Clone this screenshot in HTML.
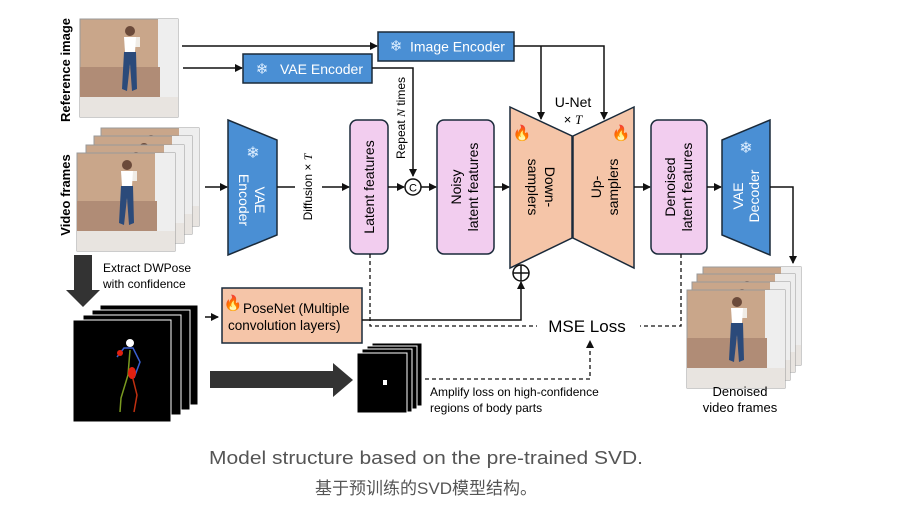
<!DOCTYPE html>
<html><head><meta charset="utf-8"><style>
html,body{margin:0;padding:0;background:#fff;}
svg{display:block;font-family:"Liberation Sans","Noto Sans CJK SC",sans-serif;}
</style></head><body>
<svg width="901" height="510" viewBox="0 0 901 510" xmlns="http://www.w3.org/2000/svg">
<defs>
<marker id="ah" markerWidth="8" markerHeight="8" refX="7" refY="4" orient="auto" markerUnits="userSpaceOnUse"><path d="M0,0 L8,4 L0,8 Z" fill="#111"/></marker>
<g id="photo">
<rect x="0" y="0" width="98" height="98" fill="#c9a68a" stroke="#999" stroke-width="1"/>
<rect x="78" y="0" width="20" height="80" fill="#eee"/>
<rect x="0" y="48" width="80" height="30" fill="#b08c76"/>
<rect x="0" y="78" width="98" height="20" fill="#e8e4e0"/>
<rect x="50" y="18" width="10" height="10" fill="#f0ece6"/>
<path d="M44,18 L56,18 L55,33 L45,33 Z" fill="#fff"/>
<path d="M44,33 L56,33 L57,70 L52,72 L50,45 L47,72 L42,70 Z" fill="#2b4a7a"/>
<circle cx="50" cy="12" r="5" fill="#6b4a3a"/>
</g>
</defs>

<!-- Reference image -->
<use href="#photo" x="80" y="19"/>
<text transform="translate(70,70) rotate(-90)" text-anchor="middle" font-size="13" font-weight="bold">Reference image</text>

<!-- Video frames stack -->
<use href="#photo" x="101" y="128"/>
<use href="#photo" x="94" y="136"/>
<use href="#photo" x="86" y="145"/>
<use href="#photo" x="77" y="153"/>
<text transform="translate(70,195) rotate(-90)" text-anchor="middle" font-size="13" font-weight="bold">Video frames</text>

<!-- top arrows -->
<line x1="182" y1="46" x2="377" y2="46" stroke="#111" stroke-width="1.5" marker-end="url(#ah)"/>
<line x1="183" y1="68" x2="242" y2="68" stroke="#111" stroke-width="1.5" marker-end="url(#ah)"/>
<rect x="378" y="32" width="136" height="29" fill="#4a8fd4" stroke="#1a2a3a" stroke-width="1.5"/>
<text x="396" y="51" font-size="15" fill="#ddeeff" text-anchor="middle">❄</text>
<text x="410" y="51.5" font-size="14" fill="#fff">Image Encoder</text>
<rect x="243" y="54" width="129" height="29" fill="#4a8fd4" stroke="#1a2a3a" stroke-width="1.5"/>
<text x="262" y="74" font-size="15" fill="#ddeeff" text-anchor="middle">❄</text>
<text x="280" y="74" font-size="14" fill="#fff">VAE Encoder</text>

<polyline points="372,68 413,68 413,176" fill="none" stroke="#111" stroke-width="1.5" marker-end="url(#ah)"/>
<text transform="translate(405,118) rotate(-90)" text-anchor="middle" font-size="12">Repeat <tspan font-family="Liberation Serif" font-style="italic">N</tspan> times</text>

<!-- VAE Encoder trapezoid -->
<polygon points="228,120 277,140 277,235 228,255" fill="#4a8fd4" stroke="#1a2a3a" stroke-width="1.5"/>
<text x="253" y="158" font-size="16" fill="#ddeeff" text-anchor="middle">❄</text>
<text transform="translate(252,200) rotate(90)" text-anchor="middle" font-size="14" fill="#fff"><tspan x="0" y="-3">VAE</tspan><tspan x="0" y="13">Encoder</tspan></text>

<line x1="205" y1="187" x2="227" y2="187" stroke="#111" stroke-width="1.5" marker-end="url(#ah)"/>
<line x1="277" y1="187" x2="295" y2="187" stroke="#111" stroke-width="1.5"/>
<text transform="translate(312,187) rotate(-90)" text-anchor="middle" font-size="12">Diffusion × <tspan font-family="Liberation Serif" font-style="italic">T</tspan></text>
<line x1="322" y1="187" x2="349" y2="187" stroke="#111" stroke-width="1.5" marker-end="url(#ah)"/>

<!-- Latent features -->
<rect x="350" y="120" width="38" height="134" rx="7" fill="#f2cdef" stroke="#1a2a3a" stroke-width="1.5"/>
<text transform="translate(374,187) rotate(-90)" text-anchor="middle" font-size="14">Latent features</text>
<line x1="388" y1="187" x2="404" y2="187" stroke="#111" stroke-width="1.5" marker-end="url(#ah)"/>
<circle cx="413" cy="187" r="8" fill="#fff" stroke="#111" stroke-width="1.5"/>
<text x="413" y="191.5" font-size="11" text-anchor="middle">C</text>
<line x1="421" y1="187" x2="436" y2="187" stroke="#111" stroke-width="1.5" marker-end="url(#ah)"/>

<!-- Noisy latent -->
<rect x="437" y="120" width="57" height="134" rx="7" fill="#f2cdef" stroke="#1a2a3a" stroke-width="1.5"/>
<text transform="translate(465,187) rotate(-90)" text-anchor="middle" font-size="14"><tspan x="0" y="-4">Noisy</tspan><tspan x="0" y="13">latent features</tspan></text>
<line x1="494" y1="187" x2="509" y2="187" stroke="#111" stroke-width="1.5" marker-end="url(#ah)"/>

<!-- U-Net -->
<polygon points="510,107 572,136 572,238 510,268" fill="#f5c5a8" stroke="#1a2a3a" stroke-width="1.5"/>
<polygon points="573,136 634,107 634,268 573,238" fill="#f5c5a8" stroke="#1a2a3a" stroke-width="1.5"/>
<text x="522" y="138" font-size="15" fill="#d0541a" text-anchor="middle">🔥</text>
<text x="621" y="138" font-size="15" fill="#d0541a" text-anchor="middle">🔥</text>
<text transform="translate(541,187) rotate(90)" text-anchor="middle" font-size="14"><tspan x="0" y="-4">Down-</tspan><tspan x="0" y="13">samplers</tspan></text>
<text transform="translate(605,187) rotate(-90)" text-anchor="middle" font-size="14"><tspan x="0" y="-4">Up-</tspan><tspan x="0" y="13">samplers</tspan></text>
<text x="573" y="107" font-size="14" text-anchor="middle">U-Net</text>
<text x="573" y="124" font-size="13" text-anchor="middle">× <tspan font-family="Liberation Serif" font-style="italic">T</tspan></text>
<polyline points="514,46 604,46 604,119" fill="none" stroke="#111" stroke-width="1.5" marker-end="url(#ah)"/>
<line x1="541" y1="46" x2="541" y2="119" stroke="#111" stroke-width="1.5" marker-end="url(#ah)"/>

<line x1="634" y1="187" x2="650" y2="187" stroke="#111" stroke-width="1.5" marker-end="url(#ah)"/>
<rect x="651" y="120" width="56" height="134" rx="7" fill="#f2cdef" stroke="#1a2a3a" stroke-width="1.5"/>
<text transform="translate(679,187) rotate(-90)" text-anchor="middle" font-size="14"><tspan x="0" y="-4">Denoised</tspan><tspan x="0" y="13">latent features</tspan></text>
<line x1="707" y1="187" x2="721" y2="187" stroke="#111" stroke-width="1.5" marker-end="url(#ah)"/>

<!-- VAE decoder -->
<polygon points="722,140 770,120 770,255 722,235" fill="#4a8fd4" stroke="#1a2a3a" stroke-width="1.5"/>
<text x="746" y="153" font-size="16" fill="#ddeeff" text-anchor="middle">❄</text>
<text transform="translate(746,196) rotate(-90)" text-anchor="middle" font-size="14" fill="#fff"><tspan x="0" y="-3">VAE</tspan><tspan x="0" y="13">Decoder</tspan></text>
<polyline points="770,187 793,187 793,263" fill="none" stroke="#111" stroke-width="1.5" marker-end="url(#ah)"/>

<!-- Denoised frames -->
<use href="#photo" x="703" y="267" transform="scale(1)"/>
<use href="#photo" x="697" y="274"/>
<use href="#photo" x="692" y="282"/>
<use href="#photo" x="687" y="290"/>
<text x="740" y="396" font-size="13" text-anchor="middle">Denoised</text>
<text x="740" y="412" font-size="13" text-anchor="middle">video frames</text>

<!-- plus circle -->
<circle cx="521" cy="273" r="8" fill="#fff" stroke="#111" stroke-width="1.5"/>
<line x1="513" y1="273" x2="529" y2="273" stroke="#111" stroke-width="1.5"/>
<line x1="521" y1="265" x2="521" y2="281" stroke="#111" stroke-width="1.5"/>

<!-- DWPose big arrow -->
<rect x="74" y="255" width="18" height="36" fill="#333"/>
<polygon points="66,290 100,290 83,307" fill="#333"/>
<text x="103" y="272" font-size="12">Extract DWPose</text>
<text x="103" y="288" font-size="12">with confidence</text>

<!-- Pose frames -->
<rect x="100" y="305" width="98" height="100" fill="#000" stroke="#fff" stroke-width="1"/>
<rect x="92" y="310" width="98" height="100" fill="#000" stroke="#fff" stroke-width="1"/>
<rect x="83" y="315" width="98" height="100" fill="#000" stroke="#fff" stroke-width="1"/>
<rect x="73" y="320" width="98" height="102" fill="#000" stroke="#fff" stroke-width="1"/>
<circle cx="130" cy="343" r="4" fill="#fff"/>
<polyline points="117,357 124,348 133,348 140,362 134,378" fill="none" stroke="#3a5fd0" stroke-width="1.5"/>
<polyline points="130,350 128,375 121,398 120,412" fill="none" stroke="#7a9a20" stroke-width="1.5"/>
<polyline points="132,375 137,395 134,412" fill="none" stroke="#c03010" stroke-width="1.5"/>
<circle cx="120" cy="353" r="3" fill="#e02010"/>
<ellipse cx="132" cy="373" rx="4" ry="6" fill="#e02010"/>

<line x1="205" y1="317" x2="218" y2="317" stroke="#111" stroke-width="1.5" marker-end="url(#ah)"/>
<rect x="222" y="288" width="140" height="55" fill="#f5c5a8" stroke="#1a2a3a" stroke-width="1.5"/>
<text x="233" y="308" font-size="15" fill="#d0541a" text-anchor="middle">🔥</text>
<text x="243" y="313" font-size="13.5">PoseNet (Multiple</text>
<text x="228" y="330" font-size="13.5">convolution layers)</text>
<polyline points="362,320 521,320 521,282" fill="none" stroke="#111" stroke-width="1.5" marker-end="url(#ah)"/>

<!-- dashed MSE -->
<polyline points="370,254 370,326 537,326" fill="none" stroke="#111" stroke-width="1.3" stroke-dasharray="4,3"/>
<polyline points="681,254 681,326 640,326" fill="none" stroke="#111" stroke-width="1.3" stroke-dasharray="4,3"/>
<text x="587" y="332" font-size="17" text-anchor="middle">MSE Loss</text>

<!-- big right arrow -->
<rect x="210" y="371" width="124" height="17" fill="#333"/>
<polygon points="333,363 353,380 333,397" fill="#333"/>

<!-- mask frames -->
<rect x="372" y="343" width="50" height="63" fill="#000" stroke="#fff" stroke-width="1"/>
<rect x="367" y="346" width="50" height="63" fill="#000" stroke="#fff" stroke-width="1"/>
<rect x="362" y="349" width="50" height="63" fill="#000" stroke="#fff" stroke-width="1"/>
<rect x="357" y="353" width="50" height="60" fill="#000" stroke="#fff" stroke-width="1"/>
<rect x="383" y="380" width="4" height="5" fill="#fff"/>
<polyline points="425,379 590,379 590,341" fill="none" stroke="#111" stroke-width="1.3" stroke-dasharray="4,3" marker-end="url(#ah)"/>
<text x="430" y="396" font-size="12">Amplify loss on high-confidence</text>
<text x="430" y="412" font-size="12">regions of body parts</text>

<!-- caption -->
<text x="426" y="464" font-size="18" fill="#555" text-anchor="middle" textLength="434" lengthAdjust="spacingAndGlyphs">Model structure based on the pre-trained SVD.</text>
<text x="426" y="494" font-size="17" fill="#555" text-anchor="middle">基于预训练的SVD模型结构。</text>
</svg>
</body></html>
